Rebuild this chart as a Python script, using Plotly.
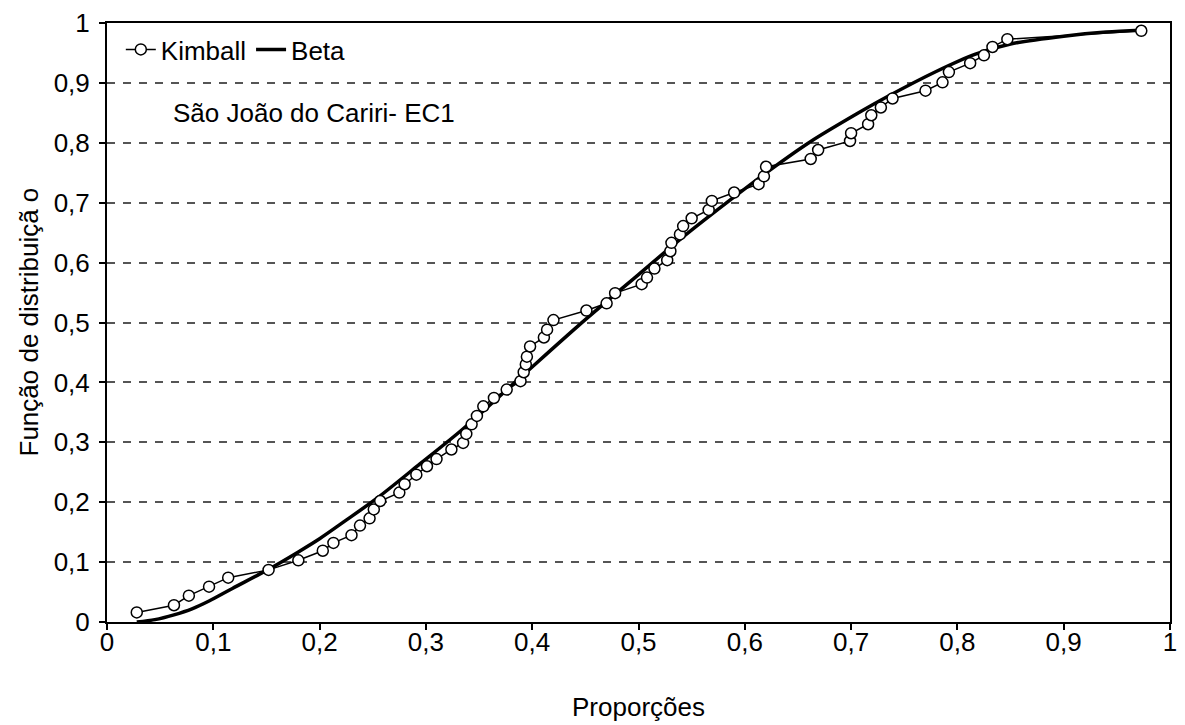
import plotly.graph_objects as go

# Empirical distribution (Kimball plotting positions)
kimball_x = [0.028, 0.063, 0.077, 0.096, 0.114, 0.152, 0.180, 0.203, 0.213, 0.230,
             0.238, 0.247, 0.251, 0.257, 0.275, 0.280, 0.291, 0.301, 0.310, 0.324,
             0.335, 0.338, 0.343, 0.348, 0.354, 0.364, 0.376, 0.389, 0.392, 0.394,
             0.395, 0.398, 0.411, 0.414, 0.420, 0.451, 0.470, 0.478, 0.503, 0.508,
             0.515, 0.527, 0.530, 0.531, 0.539, 0.542, 0.550, 0.566, 0.569, 0.590,
             0.613, 0.618, 0.620, 0.662, 0.669, 0.699, 0.700, 0.716, 0.719, 0.728,
             0.739, 0.770, 0.786, 0.792, 0.812, 0.825, 0.833, 0.847, 0.973]
kimball_y = [0.016, 0.028, 0.044, 0.059, 0.074, 0.087, 0.103, 0.119, 0.132, 0.145,
             0.161, 0.173, 0.188, 0.202, 0.216, 0.230, 0.246, 0.260, 0.272, 0.288,
             0.299, 0.314, 0.330, 0.344, 0.360, 0.374, 0.388, 0.402, 0.417, 0.430,
             0.443, 0.460, 0.475, 0.488, 0.504, 0.520, 0.532, 0.549, 0.564, 0.575,
             0.590, 0.604, 0.619, 0.633, 0.647, 0.661, 0.674, 0.688, 0.703, 0.717,
             0.731, 0.744, 0.760, 0.773, 0.788, 0.803, 0.816, 0.831, 0.846, 0.859,
             0.874, 0.887, 0.901, 0.918, 0.933, 0.946, 0.960, 0.973, 0.987]

# Fitted Beta distribution function
beta_x = [0.028, 0.045, 0.063, 0.080, 0.096, 0.118, 0.151, 0.180, 0.200, 0.225,
          0.255, 0.293, 0.334, 0.390, 0.443, 0.500, 0.540, 0.583, 0.624, 0.661,
          0.705, 0.733, 0.780, 0.817, 0.850, 0.900, 0.940, 0.973]
beta_y = [0.000, 0.004, 0.012, 0.022, 0.035, 0.056, 0.087, 0.117, 0.139, 0.170,
          0.208, 0.262, 0.321, 0.410, 0.494, 0.580, 0.640, 0.700, 0.755, 0.801,
          0.848, 0.876, 0.919, 0.948, 0.965, 0.978, 0.985, 0.988]

x_ticks = [0, 0.1, 0.2, 0.3, 0.4, 0.5, 0.6, 0.7, 0.8, 0.9, 1]
x_tick_labels = ["0", "0,1", "0,2", "0,3", "0,4", "0,5", "0,6", "0,7", "0,8", "0,9", "1"]
y_ticks = [0, 0.1, 0.2, 0.3, 0.4, 0.5, 0.6, 0.7, 0.8, 0.9, 1]
y_tick_labels = ["0", "0,1", "0,2", "0,3", "0,4", "0,5", "0,6", "0,7", "0,8", "0,9", "1"]

FONT = "Liberation Sans, Arial, sans-serif"
FS = 26

fig = go.Figure()

fig.add_trace(go.Scatter(
    x=beta_x, y=beta_y, mode="lines", name="Beta",
    line=dict(color="black", width=3.5, shape="spline", smoothing=0.8),
    legendrank=2,
))

fig.add_trace(go.Scatter(
    x=kimball_x, y=kimball_y, mode="lines+markers", name="Kimball",
    line=dict(color="black", width=1.5),
    marker=dict(symbol="circle", size=11, color="white",
                line=dict(color="black", width=1.5)),
    legendrank=1,
))

fig.update_layout(
    width=1185, height=725,
    margin=dict(l=107, r=8, t=23, b=103),
    paper_bgcolor="white", plot_bgcolor="white",
    font=dict(family=FONT, size=FS, color="black"),
    showlegend=True,
    legend=dict(
        x=0.013, y=0.995, xanchor="left", yanchor="top",
        orientation="h", bgcolor="rgba(0,0,0,0)",
        font=dict(family=FONT, size=FS, color="black"),
        itemwidth=30, tracegroupgap=0,
    ),
    annotations=[
        dict(text="São João do Cariri- EC1", xref="paper", yref="paper",
             x=0.06, y=0.85, xanchor="left", yanchor="middle", showarrow=False,
             font=dict(family=FONT, size=FS, color="black")),
        dict(text="Proporções", xref="paper", yref="paper",
             x=0.5, y=0, xanchor="center", yanchor="middle", yshift=-85,
             showarrow=False, font=dict(family=FONT, size=FS, color="black")),
        dict(text="Função de distribuiçã o", xref="paper", yref="paper",
             x=0, y=0.5, xanchor="center", yanchor="middle", xshift=-79,
             textangle=-90, showarrow=False,
             font=dict(family=FONT, size=FS, color="black")),
    ],
)

fig.update_xaxes(
    range=[0, 1], tickvals=x_ticks, ticktext=x_tick_labels,
    showgrid=False, zeroline=False,
    showline=True, linecolor="black", linewidth=2, mirror=True,
    ticks="outside", ticklen=6, tickcolor="black", tickwidth=1.5,
    ticklabelstandoff=-10,
    tickfont=dict(family=FONT, size=FS, color="black"),
)

fig.update_yaxes(
    range=[0, 1], tickvals=y_ticks, ticktext=y_tick_labels,
    showgrid=True, gridcolor="#555555", gridwidth=1.5, griddash="8px,8px",
    zeroline=False,
    showline=True, linecolor="black", linewidth=2, mirror=True,
    ticks="outside", ticklen=6, tickcolor="black", tickwidth=1.5,
    ticklabelstandoff=4,
    tickfont=dict(family=FONT, size=FS, color="black"),
)

fig.write_html("out.html")
